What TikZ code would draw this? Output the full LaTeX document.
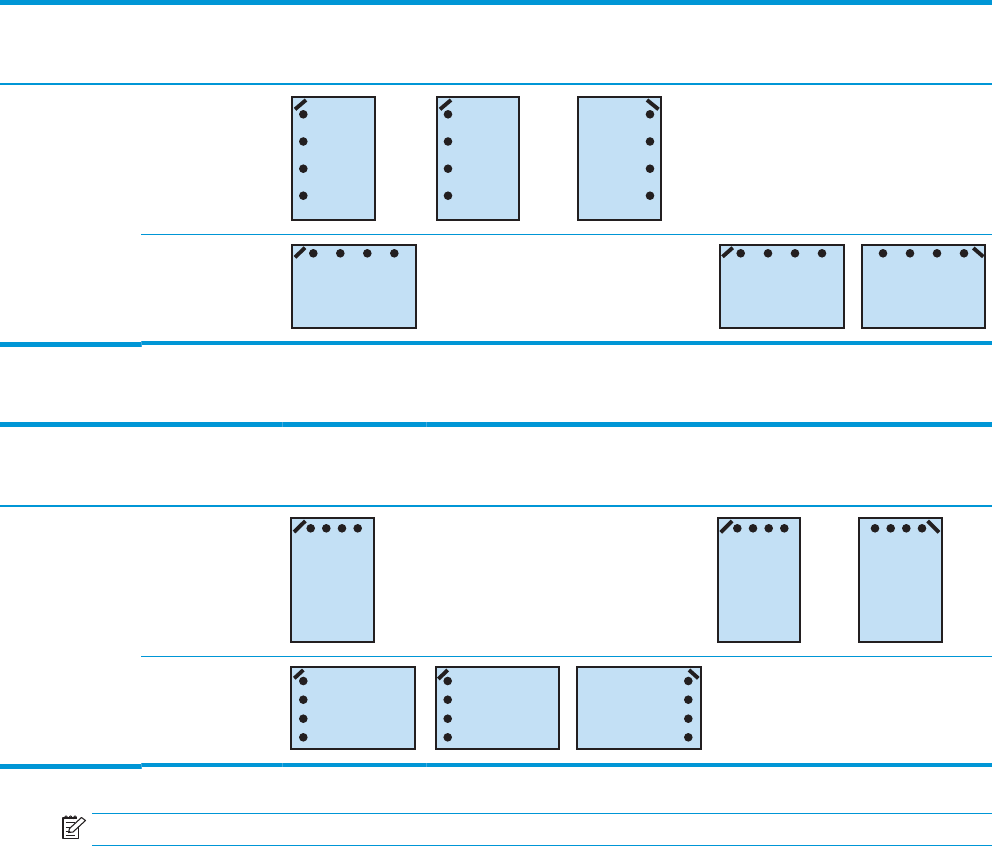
\documentclass[tikz,border=0pt]{standalone}
\usetikzlibrary{calc}
\definecolor{rulecyan}{HTML}{0096D6}
\definecolor{rulepale}{HTML}{40A9DE}
\definecolor{sheetblue}{HTML}{C3E0F5}
\definecolor{inkblack}{HTML}{231F20}
\tikzset{
  thinrule/.style={rulecyan,line width=0.95pt},
  midrule/.style={rulecyan,line width=1.5pt},
  sheetedge/.style={fill=sheetblue,draw=inkblack,line width=1.7pt},
  staple/.style={inkblack,line width=2.9pt},
  hole/.style={fill=inkblack},
  noteline/.style={inkblack,line width=0.65pt}
}
\newcommand{\drawsheet}[4]{% {left}{top}{right}{bottom}, outer edges
  \draw[sheetedge] (#1+1.1,#2+1.1) rectangle (#3-1.1,#4-1.1);
}
\newcommand{\drawholes}[1]{% {list of x/y}
  \foreach \hx/\hy in {#1} \fill[hole] (\hx,\hy) circle (4.3);
}
\begin{document}
\begin{tikzpicture}[x=0.75pt,y=-0.75pt]
  \useasboundingbox (0,0) rectangle (992,846);
  % Thick rules
  \fill[rulecyan] (0,0) rectangle (992,5.2);
  \fill[rulecyan] (0,342) rectangle (141,347);
  \fill[rulecyan] (141,341) rectangle (992,345);
  \fill[rulecyan] (0,422) rectangle (992,427);
  \fill[rulecyan] (0,764) rectangle (141,769);
  \fill[rulecyan] (141,763) rectangle (992,767);
  % Header rules
  \draw[midrule] (0,84) -- (992,84);
  \draw[midrule] (0,506) -- (992,506);
  % Row rules
  \draw[thinrule] (141,234.5) -- (992,234.5);
  \draw[thinrule] (141,656.5) -- (992,656.5);
  % Column seams in the rules
  \foreach \sx in {282,426} {
    \draw[rulepale,line width=0.3pt] (\sx,422) -- (\sx,427);
    \draw[rulepale,line width=0.3pt] (\sx,763) -- (\sx,767);
  }
  \draw[rulepale,line width=0.3pt] (141,341) -- (141,347);
  \draw[rulepale,line width=0.3pt] (141,763) -- (141,769);
  % Note rules
  \draw[thinrule] (92,813.5) -- (992,813.5);
  \draw[thinrule] (92,845.4) -- (992,845.4);

  % First row, portrait, holes at the side
  \drawsheet{291}{96}{376}{221}
  \drawholes{303.3/114.3,303.3/141.5,303.3/168.7,303.3/195.7}
  \draw[staple] (295,109.3) -- (306,100);
  \drawsheet{436}{96}{520}{221}
  \drawholes{448/114.3,448/141.5,448/168.7,448/195.7}
  \draw[staple] (440,109.3) -- (451,100);
  \drawsheet{577}{96}{662}{221}
  \drawholes{650/114.3,650/141.5,650/168.7,650/195.7}
  \draw[staple] (647,100) -- (658.5,109.3);

  % Second row, landscape, holes on top
  \drawsheet{291}{244}{417}{329}
  \drawholes{313.3/253.3,340.3/253.3,367.3/253.3,394.3/253.3}
  \draw[staple] (295,257.3) -- (305,247.7);
  \drawsheet{719}{244}{845}{329}
  \drawholes{740.7/253.3,768/253.3,795/253.3,822/253.3}
  \draw[staple] (722.5,256.7) -- (732.7,247.7);
  \drawsheet{861}{244}{986}{329}
  \drawholes{883/253.3,910/253.3,937/253.3,964/253.3}
  \draw[staple] (973.3,248) -- (983.3,256.7);

  % Third row, portrait, holes on top
  \drawsheet{290}{517}{375}{643}
  \drawholes{310.7/528.3,326.3/528.3,342/528.3,357.7/528.3}
  \draw[staple] (294,532) -- (305.3,521);
  \drawsheet{717}{517}{801}{643}
  \drawholes{737.3/528.3,753/528.3,768.7/528.3,784.3/528.3}
  \draw[staple] (720.7,532.3) -- (732,521);
  \drawsheet{858}{517}{943}{643}
  \drawholes{875/528.3,890.7/528.3,906.3/528.3,922/528.3}
  \draw[staple] (927.7,521) -- (939,532.3);

  % Fourth row, landscape, holes at the side
  \drawsheet{290}{666}{416}{750}
  \drawholes{303.3/681,303.3/699.7,303.3/718.7,303.3/737.3}
  \draw[staple] (294.3,678.3) -- (303.3,670);
  \drawsheet{435}{666}{560}{750}
  \drawholes{447.7/681,447.7/699.7,447.7/718.7,447.7/737.3}
  \draw[staple] (438.3,679) -- (447.7,670);
  \drawsheet{576}{666}{702}{750}
  \drawholes{688.3/681,688.3/699.7,688.3/718.7,688.3/737.3}
  \draw[staple] (689,670) -- (698.3,678.3);

  % Note icon
  \draw[inkblack,line width=1.1pt,line join=round] (78.5,825) -- (78.5,838.5) -- (63,838.5) -- (63,818) -- (77,818);
  \foreach \lx in {66,70.5,75} {
    \draw[noteline] (\lx-1.5,819) .. controls (\lx-1.5,815) and (\lx+1.5,815) .. (\lx+1.5,818.5);
  }
  \draw[noteline] (65.5,822.5) -- (75,822.5);
  \draw[noteline] (65.5,827) -- (71,827);
  \draw[noteline] (65.5,831.5) -- (68,831.5);
  \draw[noteline] (65.5,835.5) -- (75,835.5);
  \draw[inkblack,line width=0.8pt,line join=round,fill=white] (68.5,832.5) -- (69.5,828.5) -- (81.5,817.5) -- (85.5,820.5) -- (73,832) -- cycle;
  \fill[inkblack] (68.3,833) -- (69,830.5) -- (70.8,832.2) -- cycle;
\end{tikzpicture}
\end{document}
